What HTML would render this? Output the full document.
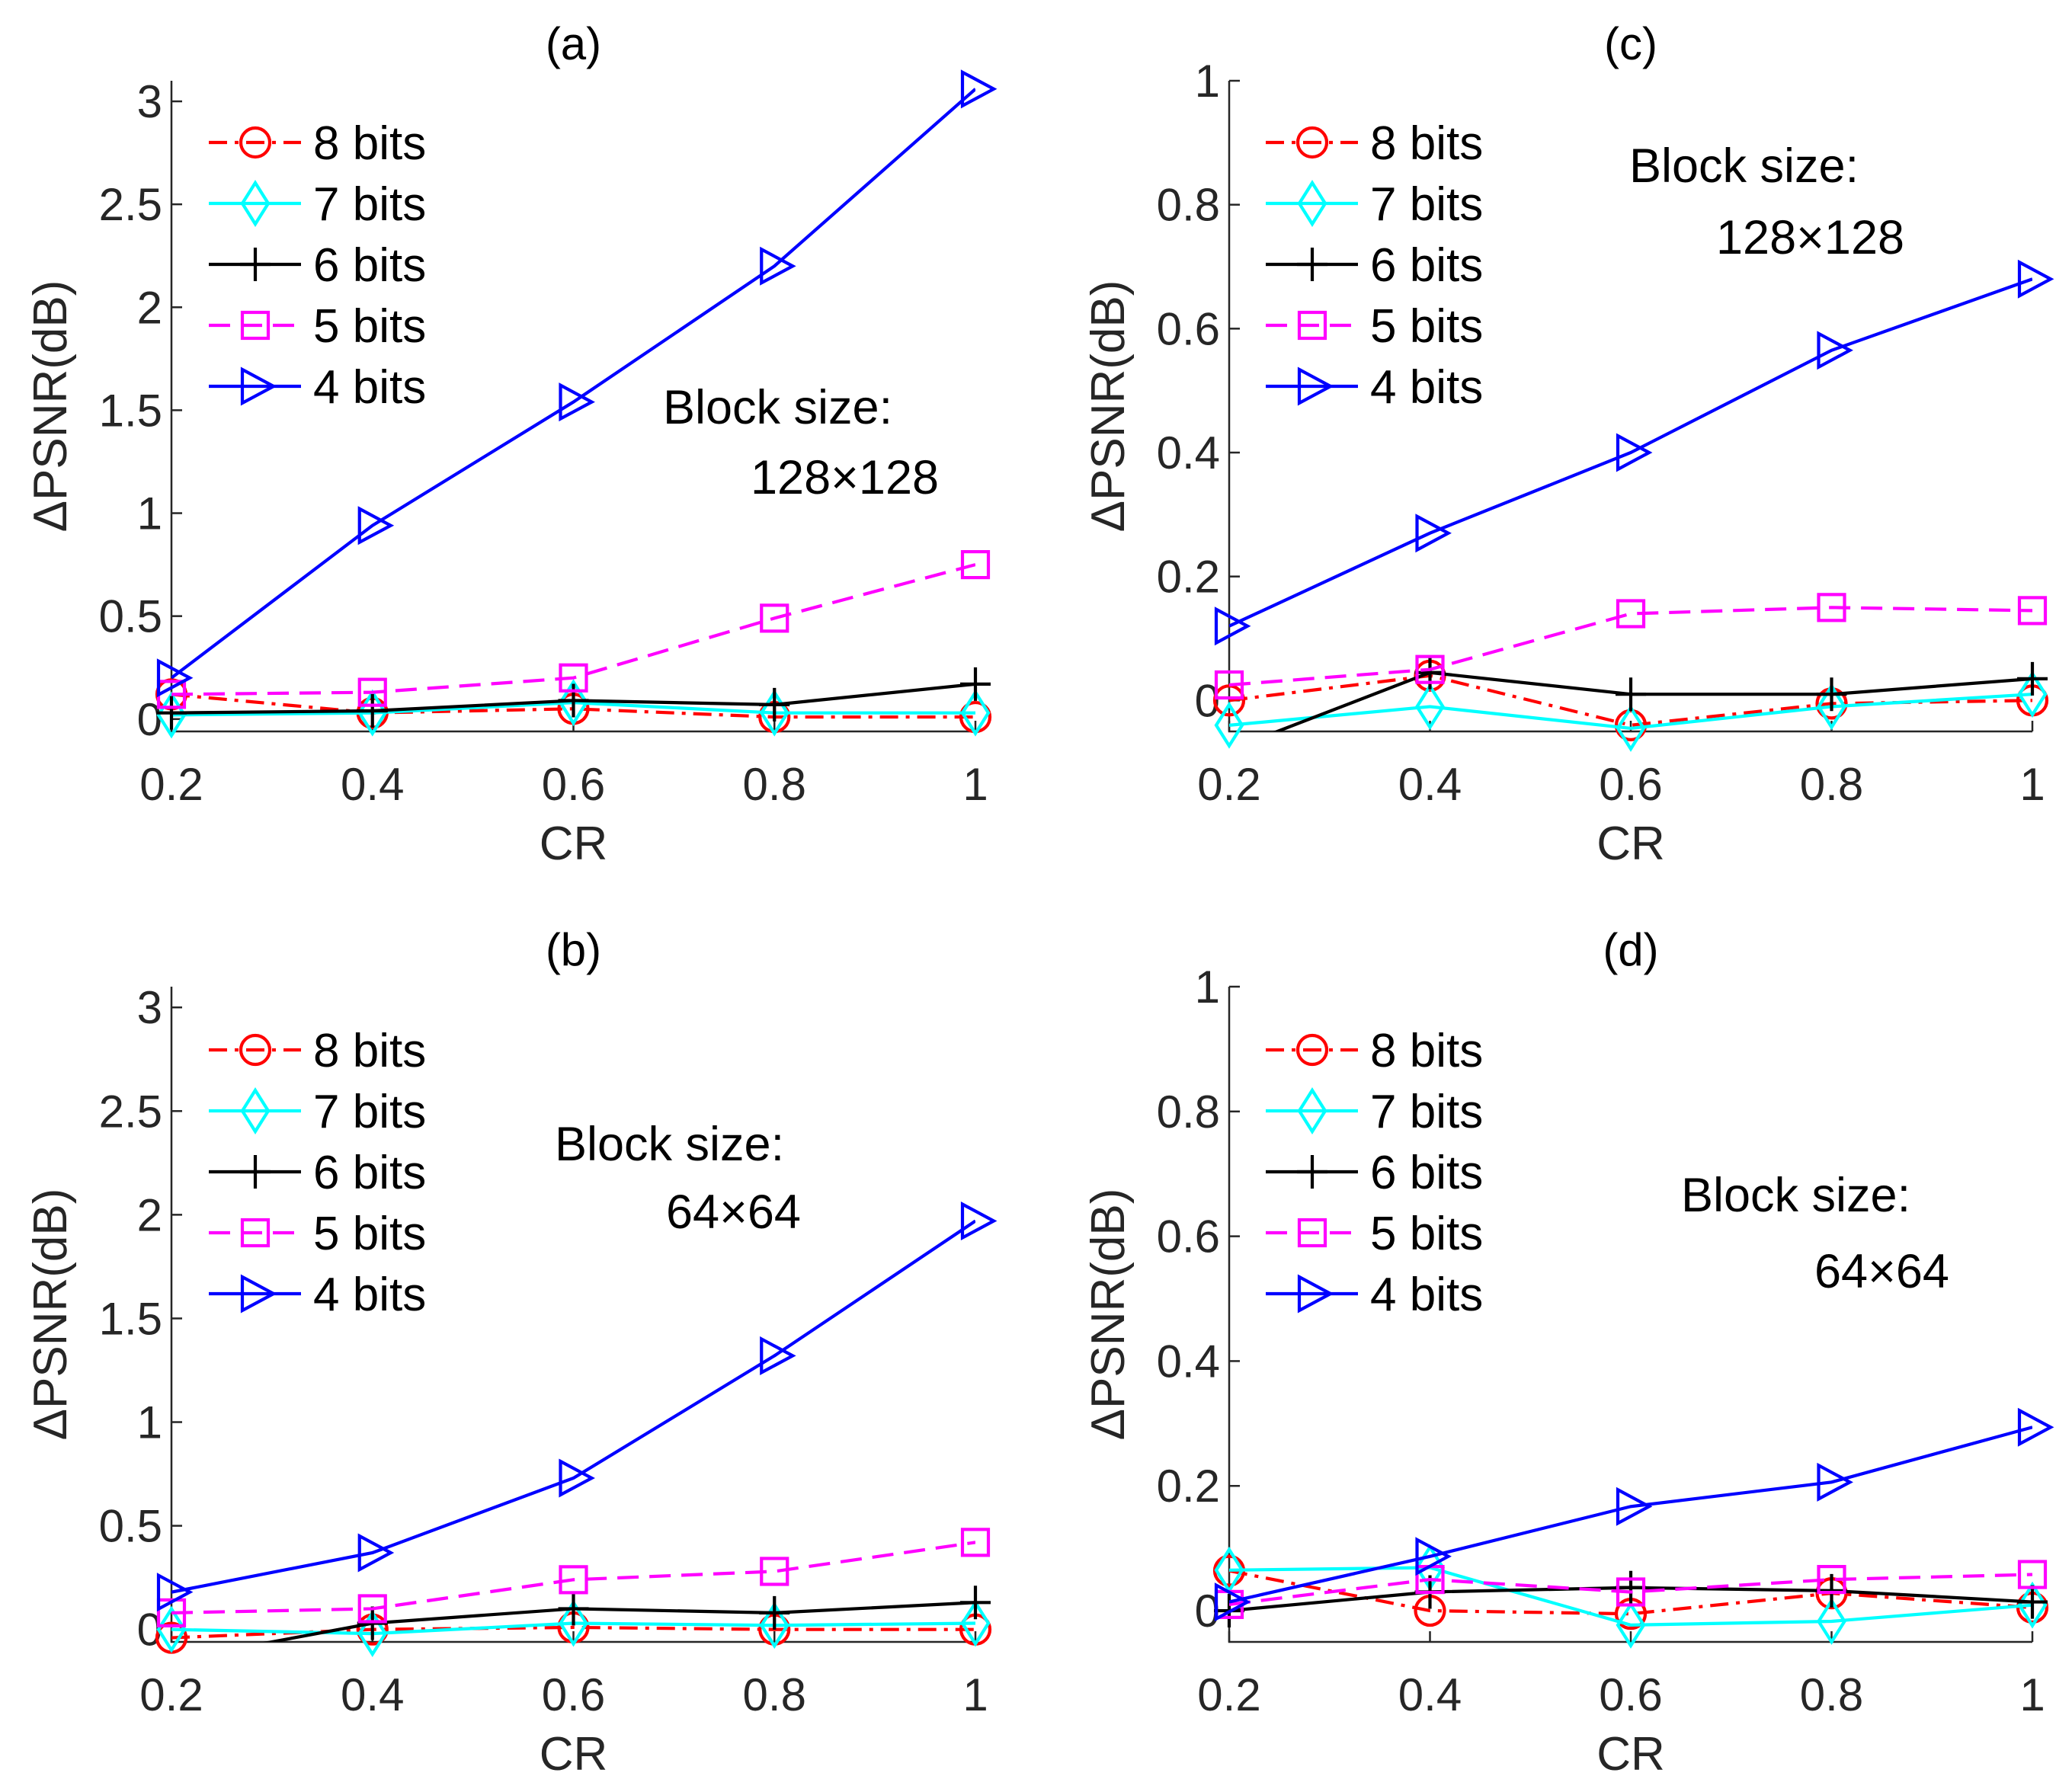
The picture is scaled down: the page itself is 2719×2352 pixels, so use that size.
<!DOCTYPE html>
<html><head><meta charset="utf-8"><style>
html,body{margin:0;padding:0;background:#fff}
svg{display:block}
text{font-family:"Liberation Sans",sans-serif;fill:#262626}
</style></head><body>
<svg id="fig" width="2719" height="2352" viewBox="0 0 2719 2352" xmlns="http://www.w3.org/2000/svg"></svg>
<script>
const crValues=[0.2,0.4,0.6,0.8,1];
const seriesNames=["8 bits","7 bits","6 bits","5 bits","4 bits"];
const a8=[0.12,0.03,0.05,0.01,0.01];
const a7=[0.02,0.03,0.08,0.03,0.03];
const a6=[0.03,0.04,0.09,0.07,0.17];
const a5=[0.12,0.13,0.20,0.49,0.75];
const a4=[0.20,0.94,1.54,2.20,3.06];
const b8=[-0.04,0.0,0.01,0.0,0.0];
const b7=[0.0,-0.02,0.03,0.02,0.03];
const b6=[-0.15,0.03,0.10,0.08,0.13];
const b5=[0.08,0.10,0.24,0.28,0.42];
const b4=[0.18,0.37,0.73,1.32,1.97];
const c8=[0.0,0.04,-0.04,-0.005,0.0];
const c7=[-0.04,-0.01,-0.045,-0.01,0.01];
const c6=[-0.08,0.045,0.01,0.01,0.035];
const c5=[0.025,0.05,0.14,0.15,0.145];
const c4=[0.12,0.27,0.40,0.565,0.68];
const d8=[0.064,0.0,-0.005,0.028,0.005];
const d7=[0.065,0.069,-0.023,-0.017,0.009];
const d6=[0.0,0.03,0.037,0.032,0.014];
const d5=[0.01,0.05,0.03,0.05,0.058];
const d4=[0.014,0.087,0.167,0.206,0.294];
const ticksBig=[0,0.5,1,1.5,2,2.5,3];
const ticksBigLbl=["0","0.5","1","1.5","2","2.5","3"];
const ticksSmall=[0,0.2,0.4,0.6,0.8,1];
const ticksSmallLbl=["0","0.2","0.4","0.6","0.8","1"];
const xTickLbl=["0.2","0.4","0.6","0.8","1"];

const NS="http://www.w3.org/2000/svg";
const svg=document.getElementById('fig');
function mk(tag,attrs,parent){const e=document.createElementNS(NS,tag);for(const k in attrs)e.setAttribute(k,attrs[k]);(parent||svg).appendChild(e);return e;}
const LW=4.2;
const styles=[
 {c:"#ff0000",dash:"24,10,5,10",m:"circle"},
 {c:"#00ffff",dash:"",m:"diamond"},
 {c:"#000000",dash:"",m:"plus"},
 {c:"#ff00ff",dash:"28,14",m:"square"},
 {c:"#0000ff",dash:"",m:"tri"}
];
function marker(g,type,x,y,col){
  let e;
  if(type==="circle")e=mk('circle',{cx:x,cy:y,r:19,fill:'none',stroke:col,'stroke-width':LW},g);
  else if(type==="diamond")e=mk('polygon',{points:`${x},${y-27} ${x+17},${y} ${x},${y+27} ${x-17},${y}`,fill:'none',stroke:col,'stroke-width':LW},g);
  else if(type==="plus")e=mk('path',{d:`M${x-20},${y}H${x+20}M${x},${y-22}V${y+22}`,stroke:col,'stroke-width':LW,fill:'none'},g);
  else if(type==="square")e=mk('rect',{x:x-17,y:y-17,width:34,height:34,fill:'none',stroke:col,'stroke-width':LW},g);
  else e=mk('polygon',{points:`${x-17},${y-22} ${x+24},${y} ${x-17},${y+22}`,fill:'none',stroke:col,'stroke-width':LW},g);
  
  
}
const panels=[
 {id:"a",L:225,R:1280,T:106,B:960,ymin:-0.06,ymax:3.1,ticks:ticksBig,lbl:ticksBigLbl,data:[a8,a7,a6,a5,a4],legX:274,legY:187,ann:[["Block size:",870,556],["128×128",985,648]]},
 {id:"c",L:1613,R:2667,T:106,B:960,ymin:-0.05,ymax:1,ticks:ticksSmall,lbl:ticksSmallLbl,data:[c8,c7,c6,c5,c4],legX:1661,legY:187,ann:[["Block size:",2138,239],["128×128",2252,333]]},
 {id:"b",L:225,R:1280,T:1295,B:2155,ymin:-0.06,ymax:3.1,ticks:ticksBig,lbl:ticksBigLbl,data:[b8,b7,b6,b5,b4],legX:274,legY:1378,ann:[["Block size:",728,1523],["64×64",874,1612]]},
 {id:"d",L:1613,R:2667,T:1295,B:2155,ymin:-0.05,ymax:1,ticks:ticksSmall,lbl:ticksSmallLbl,data:[d8,d7,d6,d5,d4],legX:1661,legY:1378,ann:[["Block size:",2206,1590],["64×64",2381,1690]]}
];
panels.forEach(p=>{
  const g=mk('g',{});
  
  
  const xs=v=>p.L+(v-0.2)/(1-0.2)*(p.R-p.L);
  const ys=v=>p.B-(v-p.ymin)/(p.ymax-p.ymin)*(p.B-p.T);
  const cp=mk('clipPath',{id:'clip'+p.id},g);
  mk('rect',{x:p.L,y:p.T,width:p.R-p.L,height:p.B-p.T},cp);
  const ax=mk('path',{d:`M${p.L},${p.T}V${p.B}H${p.R}`,stroke:'#262626','stroke-width':2.5,fill:'none'},g);
  
  p.ticks.forEach((t,i)=>{
    const y=ys(t);
    mk('line',{x1:p.L,x2:p.L+14,y1:y,y2:y,stroke:'#262626','stroke-width':2.5},g);
    const tx=mk('text',{x:p.L-12,y:y+21,'text-anchor':'end','font-size':60},g);
    tx.textContent=p.lbl[i];
    
  });
  crValues.forEach((v,i)=>{
    const x=xs(v);
    mk('line',{x1:x,x2:x,y1:p.B,y2:p.B-14,stroke:'#262626','stroke-width':2.5},g);
    const tx=mk('text',{x:x,y:p.B+90,'text-anchor':'middle','font-size':60},g);
    tx.textContent=xTickLbl[i];
    
  });
  const xl=mk('text',{x:(p.L+p.R)/2,y:p.B+168,'text-anchor':'middle','font-size':62},g);
  xl.textContent='CR';
  const yl=mk('text',{x:0,y:0,'text-anchor':'middle','font-size':62,transform:`translate(${p.L-138},${(p.T+p.B)/2}) rotate(-90)`},g);
  yl.textContent='ΔPSNR(dB)';
  const tt=mk('text',{x:(p.L+p.R)/2,y:p.T-28,'text-anchor':'middle','font-size':60,style:'fill:#000'},g);
  tt.textContent='('+p.id+')';
  p.data.forEach((arr,si)=>{
    const st=styles[si];
    const sg=mk('g',{},g);
    
    
    const pts=arr.map((v,i)=>xs(crValues[i])+','+ys(v)).join(' ');
    const pl=mk('polyline',{points:pts,fill:'none',stroke:st.c,'stroke-width':LW,'clip-path':`url(#clip${p.id})`},sg);
    if(st.dash)pl.setAttribute('stroke-dasharray',st.dash);
    arr.forEach((v,i)=>{const y=ys(v);if(y<=p.B+20)marker(sg,st.m,xs(crValues[i]),y,st.c);});
  });
  seriesNames.forEach((n,si)=>{
    const st=styles[si];const y=p.legY+si*80;
    const lg=mk('g',{},g);
    
    
    const ln=mk('line',{x1:p.legX,x2:p.legX+121,y1:y,y2:y,stroke:st.c,'stroke-width':LW},lg);
    if(st.dash)ln.setAttribute('stroke-dasharray',st.dash);
    marker(lg,st.m,p.legX+61,y,st.c);
    const t=mk('text',{x:p.legX+137,y:y+22,'font-size':62,style:'fill:#000'},lg);
    t.textContent=n;
  });
  p.ann.forEach(a=>{
    const t=mk('text',{x:a[1],y:a[2],'font-size':63,style:'fill:#000'},g);
    t.textContent=a[0];
    
  });
});
</script>
</body></html>
